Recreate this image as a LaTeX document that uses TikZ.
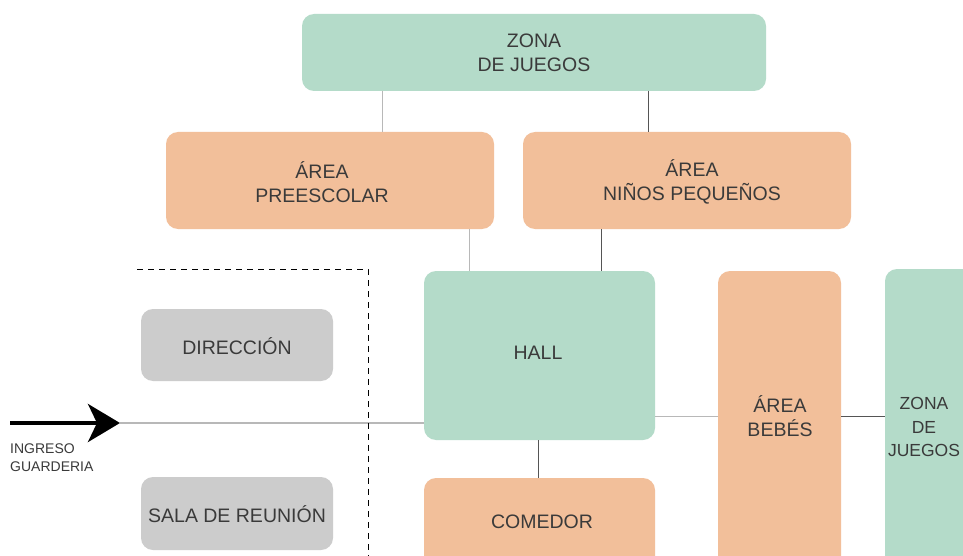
\documentclass[tikz,border=0pt]{standalone}
\usepackage{fontspec}
\setmainfont{Liberation Sans}
\usetikzlibrary{arrows.meta}
\definecolor{boxgreen}{HTML}{B4DBC9}
\definecolor{boxorange}{HTML}{F2BF9A}
\definecolor{boxgray}{HTML}{CCCCCC}
\definecolor{txt}{HTML}{3A3A3A}
\definecolor{lnlight}{HTML}{B8B8B8}
\definecolor{lndark}{HTML}{555555}
\begin{document}
\begin{tikzpicture}[x=1pt,y=-1pt,
  room/.style={rounded corners=12pt, inner sep=0pt, text=txt, align=center,
    font=\fontsize{19.5}{24}\selectfont},
  greenroom/.style={room, fill=boxgreen},
  orangeroom/.style={room, fill=boxorange},
  grayroom/.style={room, fill=boxgray},
  link/.style={lnlight, line width=1pt},
  darklink/.style={lndark, line width=1pt}]
\useasboundingbox (0,0) rectangle (963,556);
\clip (0,0) rectangle (963,556);
\fill[white] (0,0) rectangle (963,556);
% boxes
\path[greenroom] (302,14) rectangle (766,91);
\node[room] (zona) at (534,53) {ZONA\\DE JUEGOS};
\path[orangeroom] (166,132) rectangle (494,229);
\node[room] (pre) at (322,182) {ÁREA\\PREESCOLAR};
\path[orangeroom] (523,132) rectangle (851,229);
\node[room] (ninos) at (692,182) {ÁREA\\NIÑOS PEQUEÑOS};
\path[greenroom] (424,271) rectangle (655,440);
\node[room] (hall) at (538,353) {HALL};
\path[orangeroom] (424,478) rectangle (655,580);
\node[room] (comedor) at (542,522) {COMEDOR};
\path[orangeroom] (718,271) rectangle (841,580);
\node[room] (bebes) at (780,416) {ÁREA\\BEBÉS};
\path[greenroom] (885,269) rectangle (990,580);
\node[room, font=\fontsize{17.5}{23.5}\selectfont] (zonab) at (924,427) {ZONA\\DE\\JUEGOS};
\path[grayroom] (141,309) rectangle (333,381);
\node[room] (dir) at (237,346) {DIRECCIÓN};
\path[grayroom] (141,477) rectangle (333,550);
\node[room] (sala) at (237,514) {SALA DE REUNIÓN};
% named anchors for connectors
\coordinate (zonaL) at (382,91); \coordinate (preT) at (382,132);
\coordinate (zonaR) at (648,91); \coordinate (ninosT) at (648,132);
\coordinate (preB) at (469,229); \coordinate (hallTL) at (469,271);
\coordinate (ninosB) at (601,229); \coordinate (hallTR) at (601,271);
\coordinate (hallB) at (538,440); \coordinate (comT) at (538,478);
\coordinate (hallR) at (655,416); \coordinate (bebL) at (718,416);
\coordinate (bebR) at (841,416); \coordinate (zonabL) at (885,416);
\coordinate (hallL) at (424,423);
\coordinate (arrS) at (10,423); \coordinate (arrE) at (120,423);
% connectors
\draw[link] (zonaL) -- (preT);
\draw[darklink] (zonaR) -- (ninosT);
\draw[link] (preB) -- (hallTL);
\draw[darklink] (ninosB) -- (hallTR);
\draw[darklink] (hallB) -- (comT);
\draw[link] (hallR) -- (bebL);
\draw[darklink] (bebR) -- (zonabL);
\draw[lnlight, line width=1.5pt] (arrE) -- (hallL);
\draw[line width=4pt, -{Stealth[length=32pt,width=38pt,inset=9pt]}] (arrS) -- (arrE);
% dashed boundary
\coordinate (dA) at (137,269); \coordinate (dB) at (368,269); \coordinate (dC) at (368,560);
\draw[black, line width=0.8pt, dash pattern=on 6pt off 5pt] (dA) -- (dB) -- (dC);
% entry label
\node[anchor=north west, inner sep=0pt, align=left, text=txt,
  font=\fontsize{14}{18}\selectfont] (ingreso) at (10,444) {INGRESO\\GUARDERIA};
\end{tikzpicture}
\end{document}
